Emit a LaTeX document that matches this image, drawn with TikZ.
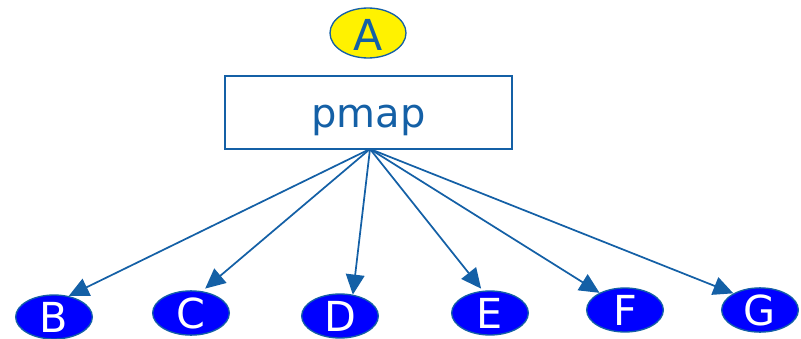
\documentclass[tikz,border=0pt]{standalone}
\usepackage{fontspec}
\setmainfont{DejaVu Sans}
\usetikzlibrary{shapes.geometric,arrows.meta}
\definecolor{pblue}{RGB}{20,96,166}

\begin{document}
\begin{tikzpicture}[
    x=0.75pt,
    y=-0.75pt,
    leaf/.style ={
        ellipse,
        white,
        fill=blue,
        draw=pblue,
        line width=1pt,
        minimum width=57.5pt,
        minimum height=33pt,
        inner sep=0pt,
        font=\fontsize{31}{31}\selectfont
    },
    root/.style ={
        ellipse,
        pblue,
        fill=yellow,
        draw=pblue,
        line width=1pt,
        minimum width=57pt,
        minimum height=34pt,
        inner sep=0pt,
        text height=26.5pt,
        text depth=-3pt,
        font=\fontsize{32}{32}\selectfont
    },
    pbox/.style ={
        rectangle,
        pblue,
        draw=pblue,
        line width=1.3pt,
        minimum width=215pt,
        minimum height=55pt,
        inner sep=0pt,
        text height=23pt,
        text depth=0pt,
        font=\fontsize{30}{30}\selectfont
    },
    link/.style ={
        pblue,
        line width=1.3pt,
        -{Triangle[length=15pt,width=14pt]}
    }
    ]
    \useasboundingbox (0,0) rectangle (801,339);

    \node[root] (a) at (368,33) {A};
    \node[pbox] (pmap) at (368.5,112.5) {pmap};
    \coordinate (src) at (370,149);

    \node[leaf] (b) at (54,317) {B};
    \node[leaf] (c) at (191,313) {C};
    \node[leaf] (d) at (340,316) {D};
    \node[leaf] (e) at (490,313) {E};
    \node[leaf] (f) at (625,310) {F};
    \node[leaf] (g) at (760,310) {G};

    \draw[link] (src) -- (b.55);
    \draw[link, shorten >=3pt] (src) -- (c.63);
    \draw[link] (src) -- (d.59);
    \draw[link, shorten >=2pt] (src) -- (e.108);
    \draw[link] (src) -- (f.146);
    \draw[link] (src) -- (g.148);
\end{tikzpicture}
\end{document}
